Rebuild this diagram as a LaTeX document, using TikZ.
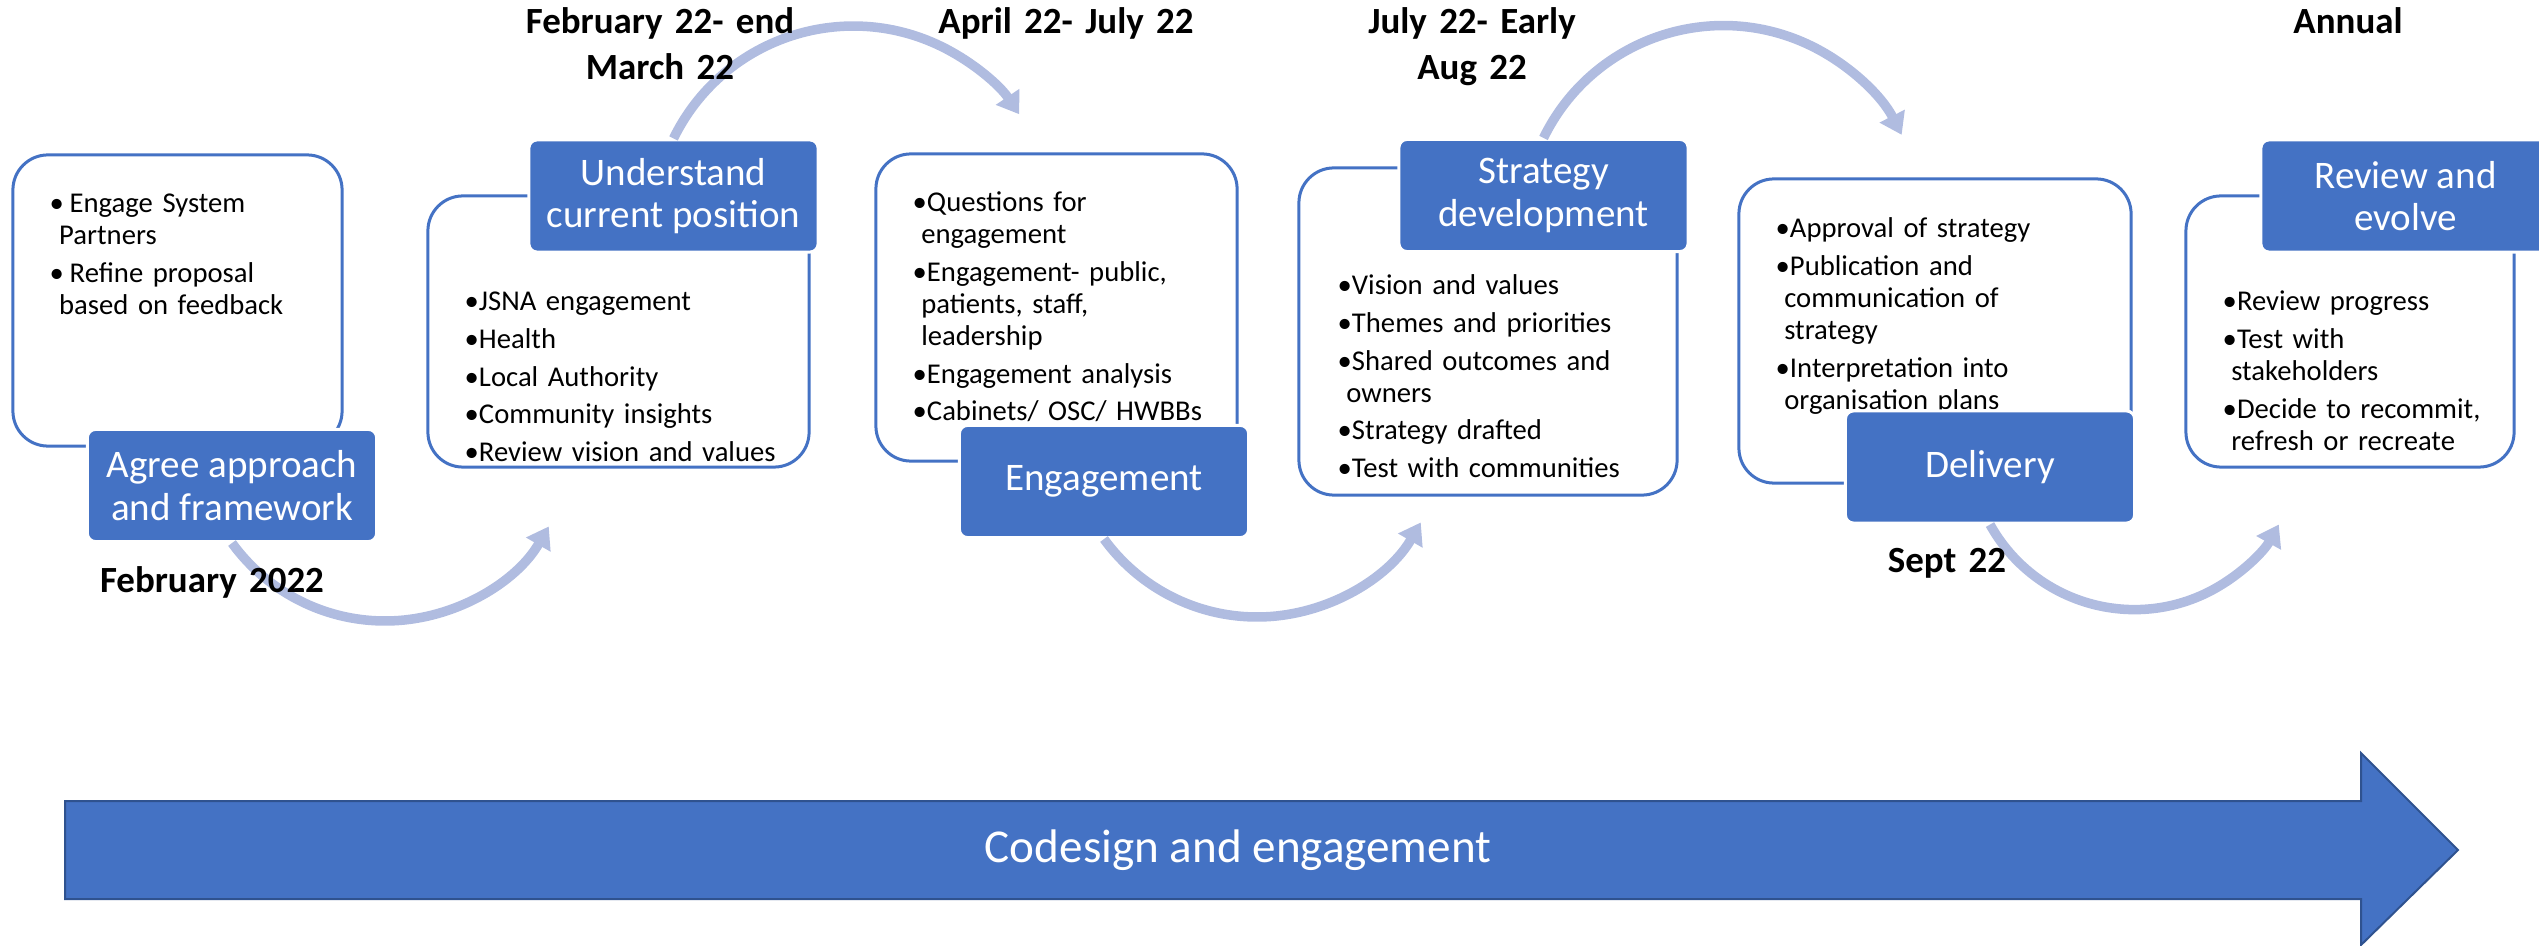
\documentclass[tikz,border=0pt]{standalone}
\usepackage{fontspec}
\setmainfont{Carlito}
\usetikzlibrary{arrows.meta}
\definecolor{accent}{HTML}{4472C4}
\definecolor{accentdark}{HTML}{2F528F}
\definecolor{arcblue}{RGB}{176,188,224}
\begin{document}
\begin{tikzpicture}[x=0.01cm,y=0.01cm,
  listbox/.style={draw=accent, line width=0.03cm, fill=white, rounded corners=0.35cm, inner sep=0},
  titlebox/.style={fill=accent, draw=white, line width=0.03cm, rounded corners=0.08cm,
    minimum width=2.89cm, minimum height=1.12cm, text=white, align=center, inner sep=0,
    font=\fontsize{11.1pt}{12pt}\selectfont},
  listtext/.style={anchor=base west, text width=4cm, align=left, inner sep=0,
    font=\fontsize{8.15pt}{9.1pt}\selectfont},
  datelabel/.style={anchor=base, text width=4cm, align=center, inner sep=0,
    font=\fontsize{10.5pt}{12.8pt}\selectfont\bfseries},
  cyclearrow/.style={draw=arcblue, line width=0.095cm, -{Triangle[width=0.27cm,length=0.21cm]}},
  bigarrow/.style={fill=accent, draw=accentdark, line width=0.02cm}
]
\useasboundingbox (0,0) rectangle (2539,-946);
\clip (0,0) rectangle (2539,-946);

% white list boxes
\node[listbox, minimum width=3.29cm, minimum height=2.91cm] (box1) at (177.5,-300.5) {};
\node[listbox, minimum width=3.81cm, minimum height=2.71cm] (box2) at (618.5,-331.5) {};
\node[listbox, minimum width=3.61cm, minimum height=3.07cm] (box3) at (1056.5,-307.5) {};
\node[listbox, minimum width=3.78cm, minimum height=3.27cm] (box4) at (1488,-331.5) {};
\node[listbox, minimum width=3.92cm, minimum height=3.04cm] (box5) at (1935,-331) {};
\node[listbox, minimum width=3.28cm, minimum height=2.71cm] (box6) at (2350,-331.5) {};

% list texts
\node[listtext] (list1) at (49,-213) {\textbullet\hspace{0.2em}Engage System\\\hspace*{0.33em}Partners\\[1.7pt]\textbullet\hspace{0.2em}Refine proposal\\\hspace*{0.33em}based on feedback};
\node[listtext] (list2) at (464,-311) {\textbullet JSNA engagement\\[1.6pt]\textbullet Health\\[1.6pt]\textbullet Local Authority\\[1.6pt]\textbullet Community insights\\[1.6pt]\textbullet Review vision and values};
\node[listtext] (list3) at (912,-212) {\textbullet Questions for\\\hspace*{0.3em}engagement\\[1.6pt]\textbullet Engagement- public,\\\hspace*{0.3em}patients, staff,\\\hspace*{0.3em}leadership\\[1.6pt]\textbullet Engagement analysis\\[1.6pt]\textbullet Cabinets/ OSC/ HWBBs};
\node[listtext] (list4) at (1337,-295) {\textbullet Vision and values\\[1.6pt]\textbullet Themes and priorities\\[1.6pt]\textbullet Shared outcomes and\\\hspace*{0.3em}owners\\[1.6pt]\textbullet Strategy drafted\\[1.6pt]\textbullet Test with communities};
\node[listtext] (list5) at (1775,-238) {\textbullet Approval of strategy\\[1.6pt]\textbullet Publication and\\\hspace*{0.3em}communication of\\\hspace*{0.3em}strategy\\[1.6pt]\textbullet Interpretation into\\\hspace*{0.3em}organisation plans};
\node[listtext] (list6) at (2222,-311) {\textbullet Review progress\\[1.6pt]\textbullet Test with\\\hspace*{0.3em}stakeholders\\[1.6pt]\textbullet Decide to recommit,\\\hspace*{0.3em}refresh or recreate};

% blue title boxes
\node[titlebox] (agree) at (232,-485.5) {Agree approach\\and framework};
\node[titlebox] (und) at (673.5,-196) {Understand\\current position};
\node[titlebox] (eng) at (1104,-481.5) {Engagement};
\node[titlebox] (strat) at (1543.5,-195.5) {Strategy\\development};
\node[titlebox] (deliv) at (1990,-467) {Delivery};
\node[titlebox] (rev) at (2405.5,-196) {Review and\\evolve};

% cycle arrows
\draw[cyclearrow] (agree.south) arc[start angle=216, end angle=330, radius=1.89cm];
\draw[cyclearrow] (und.north) arc[start angle=154, end angle=34, radius=2cm];
\draw[cyclearrow] (eng.south) arc[start angle=216, end angle=330, radius=1.89cm];
\draw[cyclearrow] (strat.north) arc[start angle=154, end angle=27, radius=2cm];
\draw[cyclearrow] (deliv.south) arc[start angle=209, end angle=331, radius=1.65cm];

% date labels
\node[datelabel] (d1) at (660,-34) {February 22- end\\March 22};
\node[datelabel] (d2) at (1066,-34) {April 22- July 22};
\node[datelabel] (d3) at (1472,-34) {July 22- Early\\Aug 22};
\node[datelabel] (d4) at (2348,-34) {Annual};
\node[datelabel] (d5) at (212,-592) {February 2022};
\node[datelabel] (d6) at (1947,-573) {Sept 22};

% big arrow
\draw[bigarrow] (65,-801) -- (2361,-801) -- (2361,-753) -- (2458,-850) -- (2361,-945) -- (2361,-899) -- (65,-899) -- cycle;
\node[text=white, font=\fontsize{13.4pt}{16pt}\selectfont] (codesign) at (1238,-850) {Codesign and engagement};
\end{tikzpicture}
\end{document}
